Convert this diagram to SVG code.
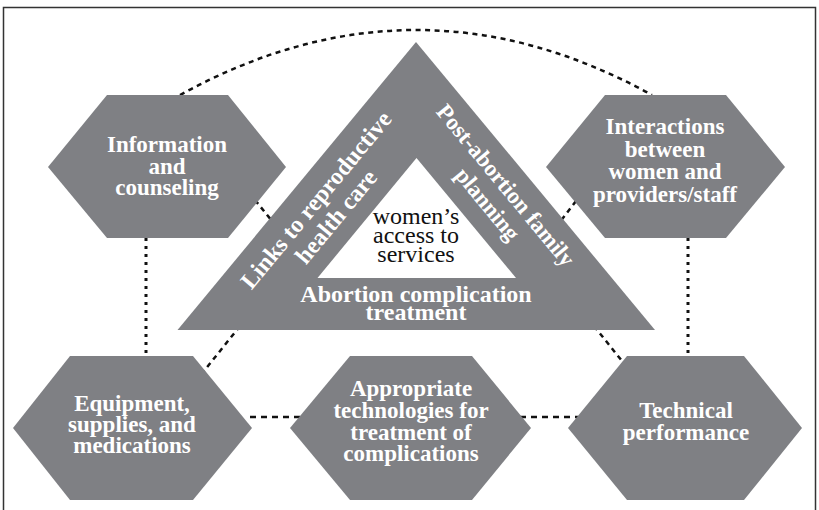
<svg xmlns="http://www.w3.org/2000/svg" width="819" height="510" viewBox="0 0 819 510">
<style>
.hex{fill:#7f8084}
.tri{fill:#7f8084}
.lbl{font-family:"Liberation Serif","Times New Roman",serif;font-weight:bold;font-size:23px;fill:#fff;text-anchor:middle}
.tlbl{font-family:"Liberation Serif","Times New Roman",serif;font-weight:bold;font-size:24px;fill:#fff;text-anchor:middle}
.ctr{font-family:"Liberation Serif","Times New Roman",serif;font-size:24px;fill:#111;text-anchor:middle}
.dash{fill:none;stroke:#111;stroke-width:2.5;stroke-dasharray:5 4.5}
.dot{fill:none;stroke:#111;stroke-width:3;stroke-dasharray:3 5}
.hdash{fill:none;stroke:#111;stroke-width:2.4;stroke-dasharray:6 5}
</style>
<rect x="0" y="0" width="819" height="510" fill="#fff"/>
<rect x="3.5" y="7.5" width="812" height="510" fill="none" stroke="#333" stroke-width="1.5"/>
<g id="connectors">
<path class="dash" d="M180,95 Q416,-35 652,95"/>
<path class="dot" d="M146,238 L146,356"/>
<path class="dot" d="M688,238 L688,356"/>
<path class="hdash" d="M250,417 L300,417"/>
<path class="hdash" d="M520,417 L578,417"/>
<path class="dash" d="M255,200 L272,221"/>
<path class="dash" d="M576,201 L560,222"/>
<path class="dash" d="M240,326 L200,376"/>
<path class="dash" d="M594,326 L626,366"/>
</g>
<g id="triangle">
<polygon class="tri" points="416,42 655,330 177.5,330"/>
<polygon fill="#fff" points="416.5,158 516,278 317.5,278"/>
<text class="ctr" x="416" y="224">women’s</text>
<text class="ctr" x="416" y="243">access to</text>
<text class="ctr" x="416" y="262">services</text>
<text class="tlbl" x="416" y="302">Abortion complication</text>
<text class="tlbl" x="416" y="320">treatment</text>
<g transform="translate(316,200) rotate(-50.4)">
<text class="tlbl" x="0" y="8">Links to reproductive</text>
<text class="tlbl" x="0" y="34">health care</text>
</g>
<g transform="translate(506,185) rotate(50.4)">
<text class="tlbl" x="0" y="8" style="font-size:23px">Post-abortion family</text>
<text class="tlbl" x="3" y="34" style="font-size:23px">planning</text>
</g>
</g>
<g id="info">
<polygon class="hex" points="107,95 228,95 286,167 228,238 107,238 48,167"/>
<text class="lbl" x="167" y="152">Information</text>
<text class="lbl" x="167" y="174">and</text>
<text class="lbl" x="167" y="195">counseling</text>
</g>
<g id="interactions">
<polygon class="hex" points="605,95 726,95 785,167 726,238 605,238 546,167"/>
<text class="lbl" x="665" y="134">Interactions</text>
<text class="lbl" x="665" y="157">between</text>
<text class="lbl" x="665" y="179">women and</text>
<text class="lbl" x="665" y="202">providers/staff</text>
</g>
<g id="equipment">
<polygon class="hex" points="70,356 193,356 252,428 193,500 70,500 13,428"/>
<text class="lbl" x="132" y="411">Equipment,</text>
<text class="lbl" x="132" y="432">supplies, and</text>
<text class="lbl" x="132" y="453">medications</text>
</g>
<g id="technologies">
<polygon class="hex" points="350,356 472,356 531,428 472,500 350,500 290,428"/>
<text class="lbl" x="411" y="396">Appropriate</text>
<text class="lbl" x="411" y="418">technologies for</text>
<text class="lbl" x="411" y="440">treatment of</text>
<text class="lbl" x="411" y="461">complications</text>
</g>
<g id="technical">
<polygon class="hex" points="627,356 744,356 802,428 744,500 627,500 568,428"/>
<text class="lbl" x="686" y="418">Technical</text>
<text class="lbl" x="686" y="440">performance</text>
</g>
</svg>
